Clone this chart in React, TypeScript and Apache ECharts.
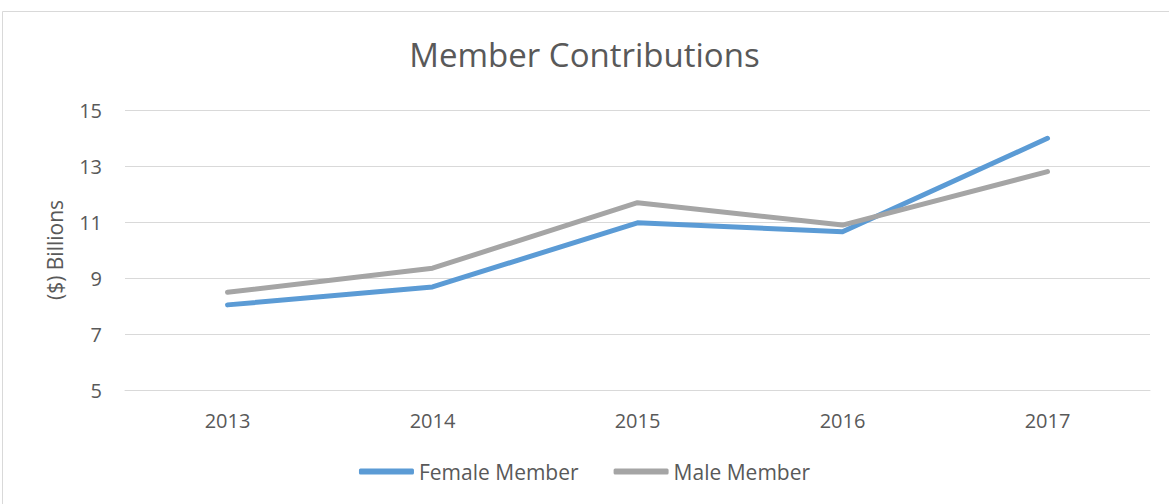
import React, { useEffect, useRef } from "react";
import * as echarts from "echarts";

const years = ["2013", "2014", "2015", "2016", "2017"];
const female = [8.04, 8.68, 10.97, 10.65, 13.99];
const male = [8.49, 9.35, 11.69, 10.89, 12.8];
const yMin = 5;
const yMax = 15;
const yStep = 2;

export default function App() {
  const ref = useRef<HTMLDivElement>(null);
  useEffect(() => {
    if (!ref.current) return;
    const chart = echarts.init(ref.current, undefined, { renderer: "svg" });
    const font = "'Open Sans', 'Noto Sans', sans-serif";
    chart.setOption({
      animation: false,
      backgroundColor: "#ffffff",
      textStyle: { fontFamily: font, color: "#595959" },
      graphic: [
        {
          type: "rect",
          shape: { x: 2.5, y: 11.5, width: 1200, height: 600 },
          style: { fill: "none", stroke: "#D9D9D9", lineWidth: 1 },
          silent: true,
        },
      ],
      title: {
        text: "Member Contributions",
        left: "center",
        top: 33,
        textStyle: { fontFamily: font, fontSize: 33, fontWeight: "normal", color: "#595959" },
      },
      legend: {
        bottom: 17,
        left: "center",
        itemWidth: 55,
        itemHeight: 6,
        itemGap: 35,
        icon: "roundRect",
        textStyle: { fontFamily: font, fontSize: 21, color: "#595959" },
        data: ["Female Member", "Male Member"],
      },
      grid: { left: 125, right: 19, top: 110, bottom: 114 },
      xAxis: {
        type: "category",
        data: years,
        boundaryGap: true,
        axisLine: { show: true, lineStyle: { color: "#D9D9D9" } },
        axisTick: { show: false },
        axisLabel: { fontFamily: font, fontSize: 20, color: "#595959", margin: 20 },
      },
      yAxis: {
        type: "value",
        min: yMin,
        max: yMax,
        interval: yStep,
        name: "($) Billions",
        nameLocation: "middle",
        nameGap: 60,
        nameTextStyle: { fontFamily: font, fontSize: 21, color: "#595959" },
        axisLine: { show: false },
        axisTick: { show: false },
        axisLabel: { fontFamily: font, fontSize: 20, color: "#595959", margin: 23 },
        splitLine: { lineStyle: { color: "#D9D9D9", width: 1 } },
      },
      series: [
        {
          name: "Female Member",
          type: "line",
          data: female,
          symbol: "none",
          lineStyle: { color: "#5B9BD5", width: 5, cap: "round", join: "round" },
          itemStyle: { color: "#5B9BD5" },
        },
        {
          name: "Male Member",
          type: "line",
          data: male,
          symbol: "none",
          lineStyle: { color: "#A5A5A5", width: 5, cap: "round", join: "round" },
          itemStyle: { color: "#A5A5A5" },
        },
      ],
    });
    return () => chart.dispose();
  }, []);
  return (
    <div
      ref={ref}
      style={{ position: "fixed", left: 0, top: 0, width: 1169, height: 504 }}
    />
  );
}
